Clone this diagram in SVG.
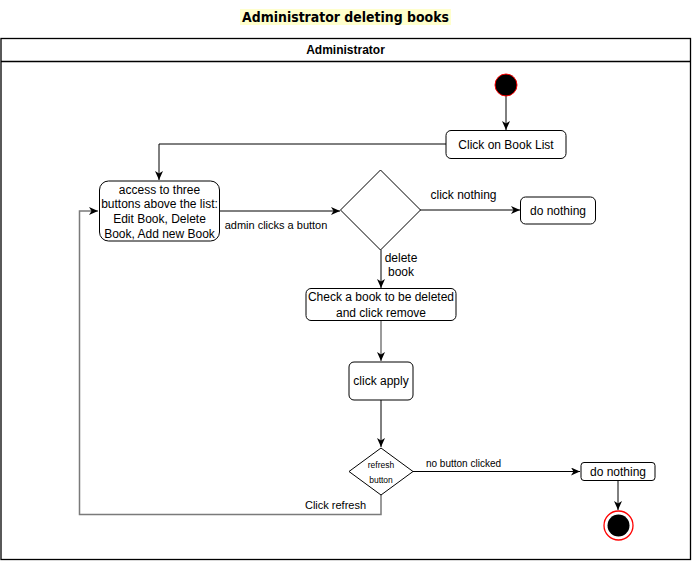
<svg xmlns="http://www.w3.org/2000/svg" width="692" height="561" viewBox="0 0 692 561">
<defs>
<marker id="arr" markerWidth="10" markerHeight="8" refX="9" refY="4" orient="auto" markerUnits="userSpaceOnUse">
<path d="M0,0 L9,4 L0,8 L2.5,4 z" fill="#000"/>
</marker>
</defs>
<style>
.t{font-family:"Liberation Sans",Arial,sans-serif;fill:#000;text-anchor:middle}
.box{fill:#fff;stroke:#000;stroke-width:1}
.c{fill:none;stroke:#000;stroke-width:1}
.g{fill:none;stroke:#7a7a7a;stroke-width:1.5}
</style>
<rect x="0" y="0" width="692" height="561" fill="#fff"/>
<g id="title">
<rect x="240" y="9" width="211" height="16" fill="#ffffcc"/>
<text x="345.5" y="22" font-family="'Comic Sans MS','DejaVu Sans',sans-serif" font-size="14" font-weight="bold" text-anchor="middle" textLength="207" lengthAdjust="spacingAndGlyphs">Administrator deleting books</text>
</g>
<g id="pool">
<rect x="1" y="38.5" width="689.5" height="521" fill="none" stroke="#000" stroke-width="1.3"/>
<line x1="1" y1="61.5" x2="690.5" y2="61.5" stroke="#000" stroke-width="1.3"/>
<text class="t" x="345.5" y="53.5" font-size="12" font-weight="bold">Administrator</text>
</g>
<g id="connectors">
<line class="c" x1="506" y1="96" x2="506" y2="130" marker-end="url(#arr)"/>
<polyline class="c" points="446,144 159,144 159,180" marker-end="url(#arr)"/>
<line class="c" x1="219" y1="211" x2="340" y2="211" marker-end="url(#arr)"/>
<line class="c" x1="420" y1="210" x2="520" y2="210" marker-end="url(#arr)"/>
<line class="c" x1="381" y1="250" x2="381" y2="288" marker-end="url(#arr)"/>
<line class="g" x1="381" y1="321" x2="381" y2="361" marker-end="url(#arr)"/>
<line class="c" x1="381" y1="400" x2="381" y2="447" marker-end="url(#arr)"/>
<line class="c" x1="413" y1="471.5" x2="580" y2="471.5" marker-end="url(#arr)"/>
<line class="c" x1="618" y1="481" x2="618" y2="510" marker-end="url(#arr)"/>
<polyline class="g" points="381,495 381,514.5 79.5,514.5 79.5,211 98,211" marker-end="url(#arr)"/>
<text class="t" x="276" y="229" font-size="11">admin clicks a button</text>
<text class="t" x="463.5" y="199" font-size="12">click nothing</text>
<text class="t" x="401" y="262" font-size="12">delete</text>
<text class="t" x="401" y="276" font-size="12">book</text>
<text class="t" x="463.5" y="467" font-size="10">no button clicked</text>
<text class="t" x="335.5" y="509" font-size="11">Click refresh</text>
</g>
<g id="start">
<circle cx="506" cy="85" r="11" fill="#000" stroke="#ff0000" stroke-width="1"/>
</g>
<g id="clickBookList">
<rect class="box" x="446" y="130.5" width="120" height="28" rx="5"/>
<text class="t" x="506" y="148.5" font-size="12">Click on Book List</text>
</g>
<g id="access">
<rect class="box" x="99.5" y="181" width="120" height="60" rx="9"/>
<text class="t" x="159.5" y="193.5" font-size="12">access to three</text>
<text class="t" x="159.5" y="208" font-size="12">buttons above the list:</text>
<text class="t" x="159.5" y="223" font-size="12">Edit Book, Delete</text>
<text class="t" x="159.5" y="237.5" font-size="12">Book, Add new Book</text>
</g>
<g id="decision1">
<polygon class="box" points="380.5,170 420.5,210 380.5,250 340.5,210"/>
</g>
<g id="doNothing1">
<rect class="box" x="520.5" y="197" width="75" height="27" rx="5"/>
<text class="t" x="558" y="214.5" font-size="12">do nothing</text>
</g>
<g id="checkBook">
<rect class="box" x="306" y="288.5" width="150" height="32" rx="5"/>
<text class="t" x="381" y="301" font-size="12">Check a book to be deleted</text>
<text class="t" x="381" y="316.5" font-size="12">and click remove</text>
</g>
<g id="clickApply">
<rect class="box" x="349" y="362" width="64" height="38" rx="5"/>
<text class="t" x="381" y="385" font-size="12">click apply</text>
</g>
<g id="decision2">
<polygon class="box" points="381,448 413,471.5 381,495 349,471.5"/>
<text class="t" x="381" y="468" font-size="8.5">refresh</text>
<text class="t" x="381" y="483" font-size="8.5">button</text>
</g>
<g id="doNothing2">
<rect class="box" x="581" y="462.5" width="74" height="18" rx="3"/>
<text class="t" x="618" y="475.5" font-size="12">do nothing</text>
</g>
<g id="end">
<circle cx="618.5" cy="525.5" r="14.5" fill="#fff" stroke="#ff0000" stroke-width="1.3"/>
<circle cx="618.5" cy="525.5" r="11" fill="#000"/>
</g>
</svg>
